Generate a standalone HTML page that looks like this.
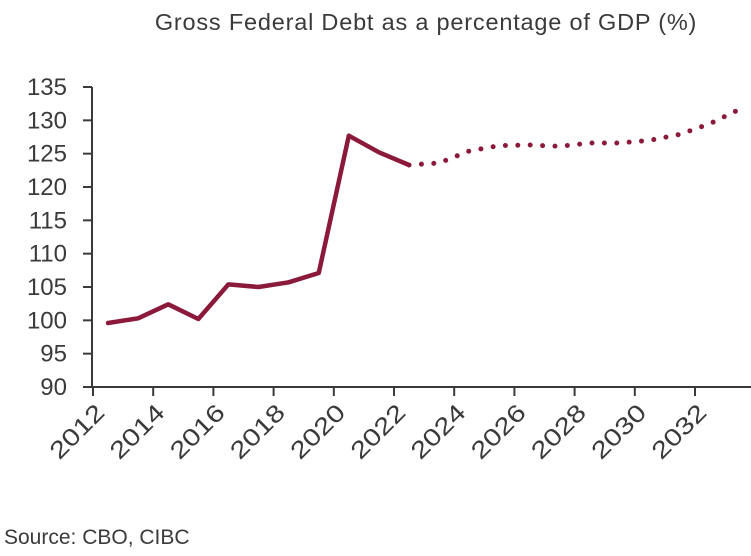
<!DOCTYPE html>
<html><head><meta charset="utf-8"><style>
body{margin:0;background:#fff;width:751px;height:551px;overflow:hidden}
text{font-family:"Liberation Sans",sans-serif;fill:#3a3a3a}
</style></head><body>
<svg id="chart" width="751" height="551" xmlns="http://www.w3.org/2000/svg">
<text x="426" y="30" text-anchor="middle" font-size="23.5" letter-spacing="0.8">Gross Federal Debt as a percentage of GDP (%)</text>
<g id="axes"></g>
<text x="4" y="544" font-size="21">Source: CBO, CIBC</text>
</svg>
<script>
const years=[2012,2013,2014,2015,2016,2017,2018,2019,2020,2021,2022,2023,2024,2025,2026,2027,2028,2029,2030,2031,2032,2033];
const actualValues=[99.6,100.3,102.4,100.2,105.4,105.0,105.7,107.1,127.7,125.2,123.3];
const projectedValues=[123.3,123.6,125.4,126.2,126.3,126.1,126.6,126.6,127.0,127.9,129.5,131.7];
const yTicks=[90,95,100,105,110,115,120,125,130,135];
const xTickLabels=[2012,2014,2016,2018,2020,2022,2024,2026,2028,2030,2032];
const NS='http://www.w3.org/2000/svg';
const x0=93,step=30.1,yb=387,ppu=300/45;
const xs=i=>x0+(i+0.5)*step;
const xb=yr=>x0+(yr-2012)*step;
const ys=v=>yb-(v-90)*ppu;
const g=document.getElementById('axes');
function mk(t,a){const e=document.createElementNS(NS,t);for(const k in a)e.setAttribute(k,a[k]);g.appendChild(e);return e;}
let e=mk('line',{x1:92,y1:ys(135),x2:92,y2:yb+1,stroke:'#3a3a3a','stroke-width':2});


e=mk('line',{x1:91,y1:yb,x2:751,y2:yb,stroke:'#3a3a3a','stroke-width':2});


yTicks.forEach(v=>{
 let t=mk('line',{x1:83,y1:ys(v),x2:92,y2:ys(v),stroke:'#3a3a3a','stroke-width':2});
 
 
 let l=mk('text',{x:67,y:ys(v)+8,'text-anchor':'end','font-size':24});
 l.textContent=v;
 
 
});
xTickLabels.forEach(yr=>{
 const x=xb(yr);
 let t=mk('line',{x1:x,y1:yb,x2:x,y2:yb+9,stroke:'#3a3a3a','stroke-width':2});
 
 
 let l=mk('text',{x:x+13,y:yb+27,'text-anchor':'end','font-size':24,textLength:66,lengthAdjust:'spacingAndGlyphs',transform:`rotate(-45 ${x+13} ${yb+27})`});
 l.textContent=yr;
 
 
});
let p=mk('polyline',{points:actualValues.map((v,i)=>xs(i)+','+ys(v)).join(' '),fill:'none',stroke:'#8b1a3a','stroke-width':4.5,'stroke-linejoin':'round','stroke-linecap':'round'});


const off=actualValues.length-1;
p=mk('polyline',{points:projectedValues.map((v,i)=>xs(i+off)+','+ys(v)).join(' '),fill:'none',stroke:'#8b1a3a','stroke-width':5,'stroke-dasharray':'0 12.4','stroke-linecap':'round'});


</script>
</body></html>
